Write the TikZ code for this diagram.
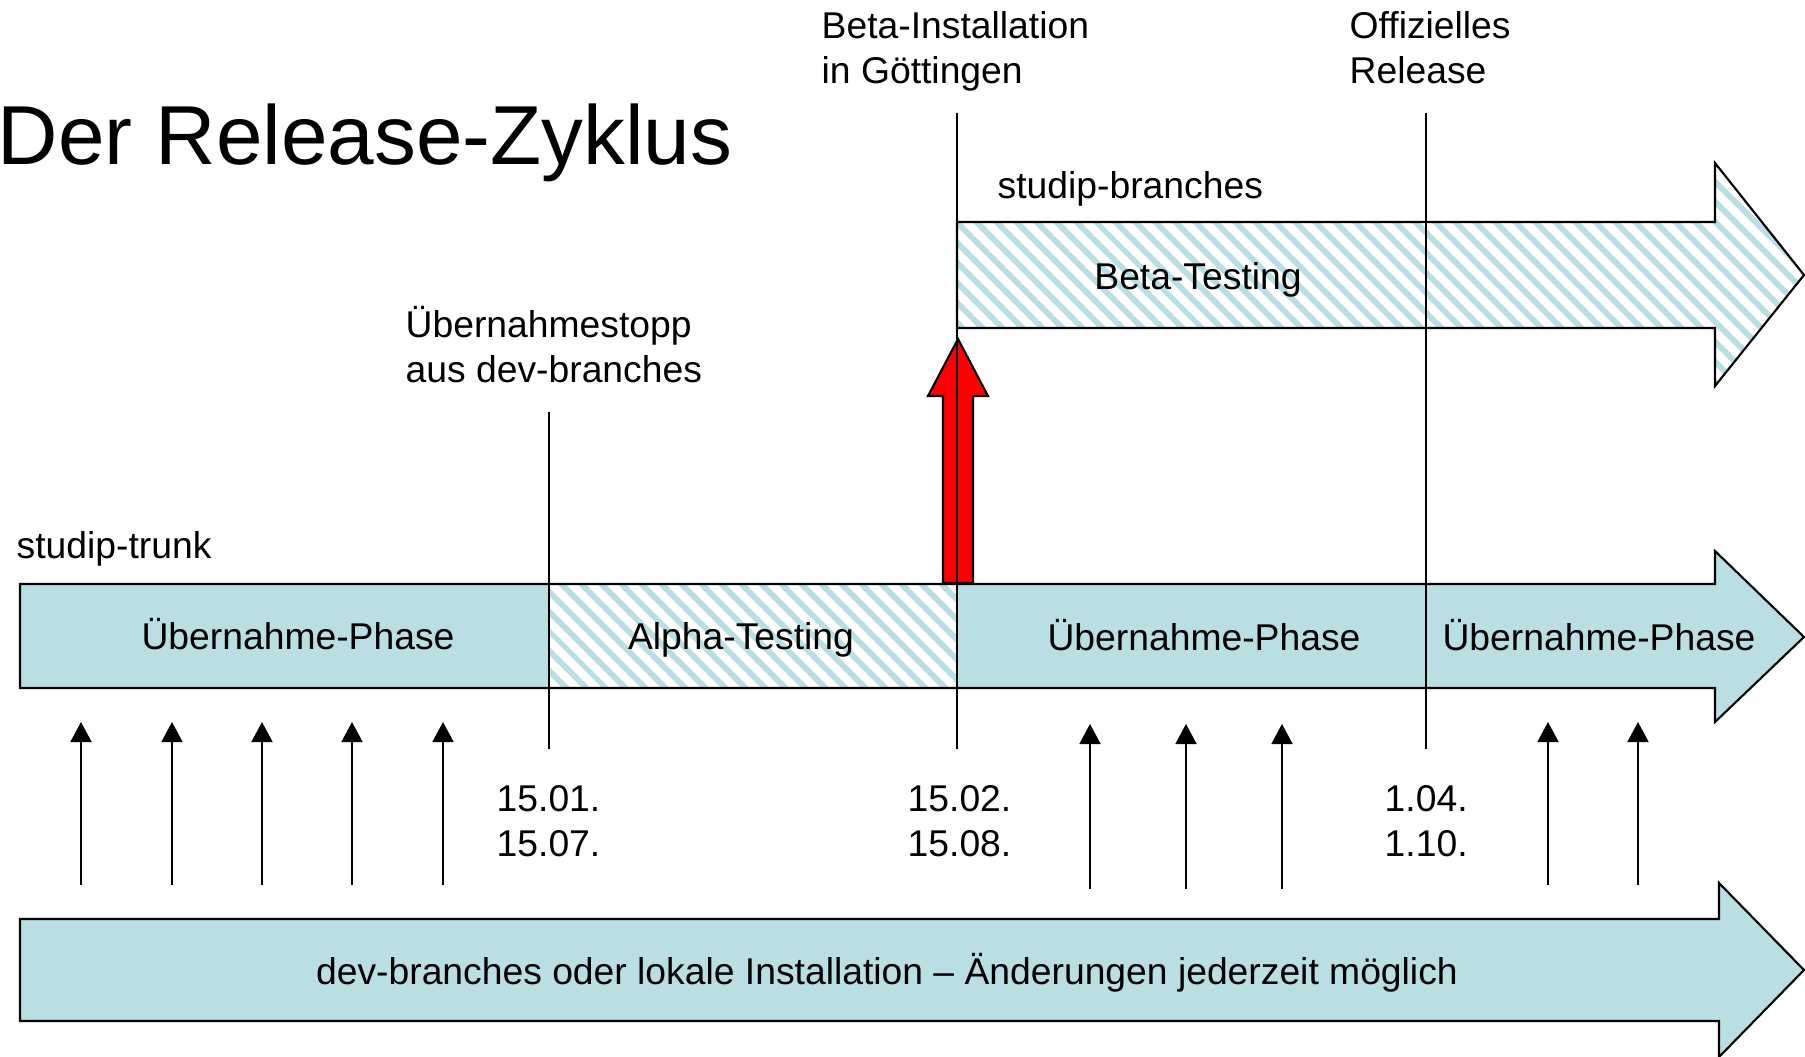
\documentclass[tikz,border=0pt]{standalone}
\usepackage{fontspec}
\setmainfont{Liberation Sans}
\usetikzlibrary{positioning}
\usetikzlibrary{arrows.meta}
\usetikzlibrary{patterns.meta}
\definecolor{phaseblue}{RGB}{185,223,227}

\begin{document}
\begin{tikzpicture}[x=0.01cm, y=-0.01cm,
        phase/.style={fill=phaseblue, draw=black, line width=0.6pt},
        testing/.style={pattern={Lines[angle=-45, distance=4pt, line width=1.7pt]}, pattern color=phaseblue},
        marker/.style={draw=black, line width=0.5pt},
        commit/.style={-{Triangle[length=2mm, width=2.1mm]}, line width=0.5pt},
        lbl/.style={font=\fontsize{10.6}{12.8}\selectfont, inner sep=0pt, align=left},
        headline/.style={font=\fontsize{23.8}{28}\selectfont, inner sep=0pt},
        ]
            \useasboundingbox (0,0) rectangle (1805,1057);

            % studip-trunk
            \fill[phaseblue] (20,584) -- (1715,584) -- (1715,551) -- (1804,637) -- (1715,722) -- (1715,688) -- (20,688) -- cycle;
            \fill[white] (549,584) rectangle (957,688);
            \fill[testing] (549,584) rectangle (957,688);
            \draw[phase, fill=none] (20,584) -- (1715,584) -- (1715,551) -- (1804,637) -- (1715,722) -- (1715,688) -- (20,688) -- cycle;

            % studip-branches
            \fill[testing] (957,222) -- (1715,222) -- (1715,163) -- (1804,275) -- (1715,386) -- (1715,328) -- (957,328) -- cycle;
            \draw[phase, fill=none] (957,222) -- (1715,222) -- (1715,163) -- (1804,275) -- (1715,386) -- (1715,328) -- (957,328) -- cycle;

            % dev-branches
            \draw[phase] (20,919) -- (1719,919) -- (1719,883) -- (1804,970) -- (1719,1057) -- (1719,1021) -- (20,1021) -- cycle;

            % Beta-Installation
            \draw[fill=red, draw=black, line width=0.6pt] (943,583) -- (943,396) -- (928,396) -- (958,339) -- (988,396) -- (973,396) -- (973,583) -- cycle;

            % Termine
            \coordinate (stopptop) at (549,412);
            \coordinate (stoppbot) at (549,749);
            \coordinate (betatop) at (957,113);
            \coordinate (betabot) at (957,749);
            \coordinate (reltop) at (1426,113);
            \coordinate (relbot) at (1426,749);
            \draw[marker] (stopptop) -- (stoppbot);
            \draw[marker] (betatop) -- (betabot);
            \draw[marker] (reltop) -- (relbot);

            % Aenderungen aus dev-branches
            \foreach \x/\b/\t [count=\i] in {81/885/722, 172/885/722, 262/885/722, 352/885/722, 443/885/722,
                    1090/889/724, 1186/889/724, 1282/889/724, 1548/885/722, 1638/885/722} {
                \coordinate (from\i) at (\x,\b);
                \coordinate (to\i) at (\x,\t);
                \draw[commit] (from\i) -- (to\i);
            }

            \node[headline, anchor=base west] (title) at (-3,164) {Der Release-Zyklus};
            \node[lbl, anchor=west] (trunk) at (16,549) {studip-trunk};
            \node[lbl, anchor=west] (branches) at (997,189) {studip-branches};
            \node[lbl] (phaseA) at (298,634) {Übernahme-Phase};
            \node[lbl] (alpha) at (741,640) {Alpha-Testing};
            \node[lbl] (phaseB) at (1204,635) {Übernahme-Phase};
            \node[lbl] (phaseC) at (1599,635) {Übernahme-Phase};
            \node[lbl] (beta) at (1198,280) {Beta-Testing};
            \node[lbl, anchor=west] (stopp) at (405,345) {Übernahmestopp\\aus dev-branches};
            \node[lbl, anchor=west] (install) at (821,51) {Beta-Installation\\in Göttingen};
            \node[lbl, anchor=west] (release) at (1349,48) {Offizielles\\Release};
            \node[lbl, anchor=west] (dateA) at (496,821) {15.01.\\15.07.};
            \node[lbl, anchor=west] (dateB) at (907,821) {15.02.\\15.08.};
            \node[lbl, anchor=west] (dateC) at (1384,821) {1.04.\\1.10.};
            \node[lbl] (dev) at (887,973) {dev-branches oder lokale Installation – Änderungen jederzeit möglich};
        \end{tikzpicture}
\end{document}
